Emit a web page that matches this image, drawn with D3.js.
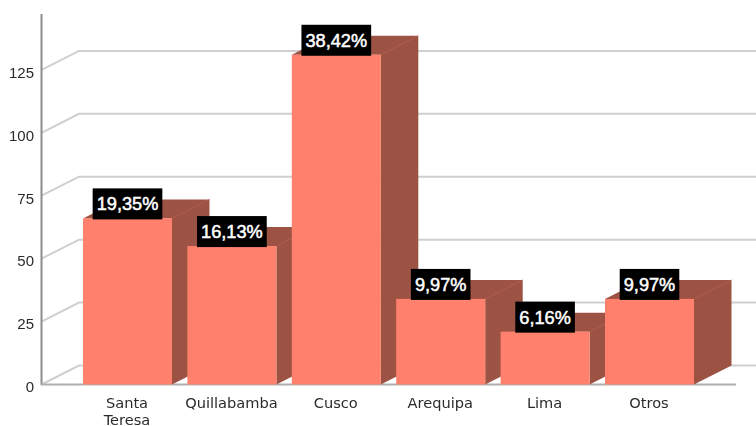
<!DOCTYPE html>
<html>
<head>
<meta charset="utf-8">
<script src="https://cdn.jsdelivr.net/npm/d3@7"></script>
<style>
html,body{margin:0;padding:0;background:#fff;overflow:hidden}
svg{display:block;filter:blur(0.35px)}
</style>
</head>
<body>
<div id="chart"></div>
<script>
const categories = [["Santa","Teresa"],["Quillabamba"],["Cusco"],["Arequipa"],["Lima"],["Otros"]];
const counts = [66,55,131,34,21,34];
const percentLabels = ["19,35%","16,13%","38,42%","9,97%","6,16%","9,97%"];
const yTicks = [0,25,50,75,100,125];

const W=756,H=426, depthX=37.5, depthY=19;
const frontColor="#ff806c", sideColor="#9c5344", sideEdge="#b5604f", gridColor="#cfcfcf", axisColor="#8c8c8c";
const svg=d3.select("#chart").append("svg").attr("width",W).attr("height",H);

const y=d3.scaleLinear().domain([0,147.2]).range([384.5,14]);
const x=d3.scaleBand().domain(d3.range(counts.length)).range([75.3,701.7]).paddingInner(0.1475).paddingOuter(0.0737);

// gridlines on wall + floor
const grid=svg.append("g").attr("fill","none").attr("stroke",gridColor).attr("stroke-width",2);
grid.selectAll("path").data(yTicks).join("path")
  .attr("d",v=>`M41.5,${y(v)}L${41.5+depthX},${y(v)-depthY}L${W},${y(v)-depthY}`);

// axes
const axisY=d3.axisLeft(y).tickValues(yTicks).tickSize(0).tickPadding(0);
const gy=svg.append("g").attr("transform","translate(34,2.5)").call(axisY);
gy.select(".domain").remove();
gy.selectAll("text").attr("font-family","'Liberation Sans',Arial,sans-serif").attr("font-size",15).attr("fill","#2b2b2b");

svg.append("line").attr("x1",41.5).attr("x2",41.5).attr("y1",14).attr("y2",385).attr("stroke",axisColor).attr("stroke-width",2);
svg.append("line").attr("x1",41).attr("x2",736).attr("y1",y(0)).attr("y2",y(0)).attr("stroke","#b0b0b0").attr("stroke-width",2);

// bars
const bars=svg.append("g").selectAll("g").data(counts).join("g");
bars.append("path").attr("fill",sideColor).attr("d",(d,i)=>{
  const l=x(i),r=l+x.bandwidth(),t=y(d),b=y(0);
  return `M${l},${t}L${l+depthX},${t-depthY}L${r+depthX},${t-depthY}L${r+depthX},${b-depthY}L${r},${b}L${r},${t}Z`;
});
bars.append("path").attr("fill","none").attr("stroke",sideEdge).attr("stroke-width",0.8).attr("d",(d,i)=>{
  const r=x(i)+x.bandwidth(),t=y(d);
  return `M${r},${t}L${r+depthX},${t-depthY}`;
});
bars.append("rect").attr("fill",frontColor)
  .attr("x",(d,i)=>x(i)).attr("width",x.bandwidth())
  .attr("y",d=>y(d)).attr("height",d=>y(0)-y(d));

// category labels
const xl=svg.append("g").selectAll("text").data(categories).join("text")
  .attr("text-anchor","middle").attr("font-family","'DejaVu Sans',Verdana,sans-serif")
  .attr("font-size",14.6).attr("fill","#2b2b2b")
  .attr("transform",(d,i)=>`translate(${x(i)+x.bandwidth()/2-0.5},408)`);
xl.selectAll("tspan").data(d=>d).join("tspan").attr("x",0).attr("dy",(d,i)=>i?17:0).text(d=>d);

// value labels
const lab=svg.append("g").selectAll("g").data(counts).join("g")
  .attr("transform",(d,i)=>`translate(${x(i)+x.bandwidth()/2},${y(d)})`);
lab.append("text").attr("class","v").attr("text-anchor","middle").attr("y",-8)
  .attr("font-family","'Liberation Sans',Arial,sans-serif").attr("font-size",18.2).attr("fill","#fff")
  .attr("stroke","#fff").attr("stroke-width",0.5)
  .text((d,i)=>percentLabels[i]);
lab.each(function(){
  const g=d3.select(this), bb=g.select("text").node().getBBox();
  g.insert("rect","text").attr("x",-(bb.width+8)/2).attr("width",bb.width+8).attr("y",-30).attr("height",31).attr("fill","#000");
});
</script>
</body>
</html>
